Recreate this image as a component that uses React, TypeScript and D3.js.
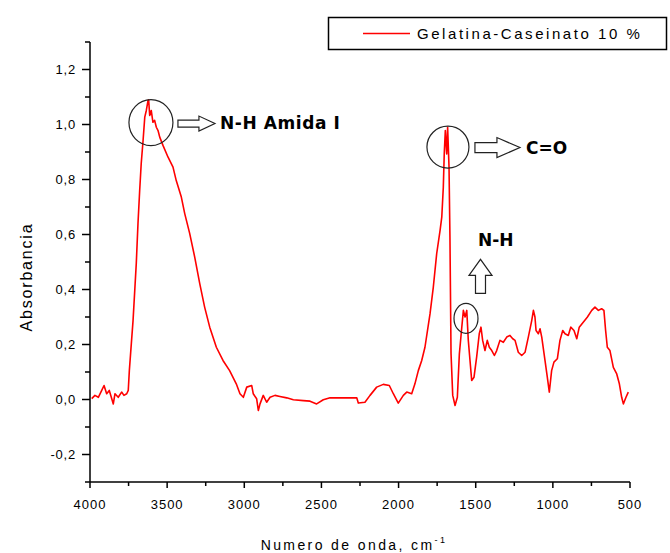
import React from "react";
import * as d3 from "d3";

const wavenumber = [3989,3968,3946,3924,3909,3892,3875,3859,3849,3838,3817,3795,3780,3762,3752,3745,3732,3721,3710,3700,3689,3678,3668,3656,3645,3635,3624,3620,3613,3603,3592,3581,3570,3559,3548,3527,3494,3462,3441,3408,3386,3354,3321,3289,3257,3224,3181,3138,3095,3052,3028,3006,2984,2952,2942,2920,2909,2898,2877,2855,2833,2801,2769,2725,2682,2617,2574,2531,2488,2444,2358,2271,2261,2218,2185,2142,2099,2060,2034,2002,1969,1947,1915,1894,1872,1850,1829,1796,1775,1753,1731,1720,1710,1704,1697,1688,1682,1673,1667,1660,1649,1634,1619,1606,1591,1580,1569,1558,1548,1537,1526,1511,1494,1477,1466,1455,1440,1425,1412,1396,1379,1364,1343,1321,1299,1278,1260,1245,1224,1202,1180,1159,1137,1126,1116,1109,1094,1083,1072,1051,1036,1023,1008,993,971,954,936,921,900,884,863,845,829,803,777,748,727,705,684,669,658,647,630,608,586,569,554,543,526,511];

const absorbance = [0.003,0.015,0.008,0.033,0.051,0.021,0.033,0.003,-0.016,0.021,0.008,0.027,0.015,0.021,0.033,0.105,0.204,0.287,0.396,0.495,0.64,0.76,0.858,0.942,1.027,1.051,1.087,1.09,1.033,1.051,1.008,1.015,0.99,0.978,0.954,0.924,0.881,0.845,0.796,0.736,0.676,0.604,0.517,0.422,0.336,0.263,0.19,0.142,0.105,0.057,0.021,0.008,0.045,0.051,0.021,0.003,-0.04,-0.016,0.015,-0.01,0.008,0.015,0.011,0.006,-0.001,-0.004,-0.006,-0.016,-0.001,0.006,0.006,0.006,-0.013,-0.01,0.015,0.045,0.055,0.051,0.021,-0.013,0.015,0.027,0.021,0.057,0.105,0.142,0.19,0.312,0.408,0.53,0.615,0.663,0.772,0.893,0.978,0.893,0.99,0.845,0.59,0.167,0.015,-0.022,0.008,0.166,0.258,0.324,0.3,0.324,0.215,0.142,0.069,0.081,0.154,0.239,0.263,0.215,0.178,0.215,0.19,0.178,0.16,0.178,0.215,0.208,0.227,0.233,0.221,0.215,0.172,0.16,0.172,0.227,0.287,0.324,0.3,0.251,0.239,0.257,0.227,0.142,0.081,0.027,0.105,0.136,0.148,0.215,0.251,0.239,0.233,0.263,0.251,0.221,0.263,0.281,0.299,0.324,0.336,0.324,0.33,0.324,0.251,0.19,0.178,0.117,0.093,0.057,0.008,-0.016,0.008,0.027];

const xTicks = [4000, 3500, 3000, 2500, 2000, 1500, 1000, 500];
const xTickLabels = ["4000", "3500", "3000", "2500", "2000", "1500", "1000", "500"];
const xMinorTicks = [3750, 3250, 2750, 2250, 1750, 1250, 750];
const yTicks = [1.2, 1.0, 0.8, 0.6, 0.4, 0.2, 0.0, -0.2];
const yTickLabels = ["1,2", "1,0", "0,8", "0,6", "0,4", "0,2", "0,0", "-0,2"];
const yMinorTicks = [1.3, 1.1, 0.9, 0.7, 0.5, 0.3, 0.1, -0.1, -0.3];

const seriesName = "Gelatina-Caseinato 10 %";
const xTitle = "Numero de onda, cm";
const yTitle = "Absorbancia";

// annotations anchored in data coordinates
const circles = [
  { w: 3605, a: 1.007, rx: 22, ry: 23 },
  { w: 1680, a: 0.918, rx: 21, ry: 21 },
  { w: 1563, a: 0.295, rx: 12, ry: 15 },
];

const RED = "#ff0000";
const FONT = "'Liberation Sans', Arial, sans-serif";
const BOLD = "'DejaVu Sans', Verdana, sans-serif";

function rightArrow(x0: number, x1: number, cy: number, shaftH: number, headH: number, headL: number) {
  const xb = x1 - headL;
  return `M${x0},${cy - shaftH / 2}L${xb},${cy - shaftH / 2}L${xb},${cy - headH / 2}L${x1},${cy}L${xb},${cy + headH / 2}L${xb},${cy + shaftH / 2}L${x0},${cy + shaftH / 2}Z`;
}
function upArrow(cx: number, y0: number, y1: number, shaftW: number, headW: number, headL: number) {
  const yb = y1 + headL;
  return `M${cx - shaftW / 2},${y0}L${cx - shaftW / 2},${yb}L${cx - headW / 2},${yb}L${cx},${y1}L${cx + headW / 2},${yb}L${cx + shaftW / 2},${yb}L${cx + shaftW / 2},${y0}Z`;
}

export default function App() {
  const x = d3.scaleLinear().domain([4000, 500]).range([90, 630]);
  const y = d3.scaleLinear().domain([-0.3, 1.3]).range([482, 42]);
  const pts: [number, number][] = wavenumber.map((w, i) => [w, absorbance[i]]);
  const line = d3.line<[number, number]>().x((d) => x(d[0])).y((d) => y(d[1]));

  const c1 = circles[0], c2 = circles[1], c3 = circles[2];
  const c1x = x(c1.w), c1y = y(c1.a);
  const c2x = x(c2.w), c2y = y(c2.a);
  const c3x = x(c3.w), c3y = y(c3.a);

  return (
    <svg width={670} height={553} style={{ position: "absolute", left: 0, top: 0, background: "#fff" }}>
      <rect x={0} y={0} width={670} height={553} fill="#fff" />
      {/* legend */}
      <rect x={328.5} y={17.5} width={338} height={32} fill="#fff" stroke="#000" strokeWidth={1.5} />
      <line x1={363} x2={410} y1={33.5} y2={33.5} stroke={RED} strokeWidth={1.5} />
      <text x={417} y={39} fontFamily={FONT} fontSize={15} letterSpacing={2.55} fill="#000">{seriesName}</text>

      {/* axes */}
      <line x1={90} x2={90} y1={y(1.3)} y2={y(-0.3)} stroke="#000" strokeWidth={1.5} />
      <line x1={90} x2={630} y1={482} y2={482} stroke="#000" strokeWidth={1.5} />
      {yTicks.map((t, i) => (
        <g key={"yt" + i}>
          <line x1={82} x2={90} y1={y(t)} y2={y(t)} stroke="#000" strokeWidth={1.5} />
          <text x={76} y={y(t) + 4.5} textAnchor="end" fontFamily={FONT} fontSize={13} letterSpacing={0.8} fill="#000">{yTickLabels[i]}</text>
        </g>
      ))}
      {yMinorTicks.map((t, i) => (
        <line key={"ym" + i} x1={85} x2={90} y1={y(t)} y2={y(t)} stroke="#000" strokeWidth={1.5} />
      ))}
      {xTicks.map((t, i) => (
        <g key={"xt" + i}>
          <line x1={x(t)} x2={x(t)} y1={482} y2={488} stroke="#000" strokeWidth={1.5} />
          <text x={x(t)} y={509} textAnchor="middle" fontFamily={FONT} fontSize={13} letterSpacing={1} fill="#000">{xTickLabels[i]}</text>
        </g>
      ))}
      {xMinorTicks.map((t, i) => (
        <line key={"xm" + i} x1={x(t)} x2={x(t)} y1={482} y2={486} stroke="#000" strokeWidth={1.5} />
      ))}

      {/* titles */}
      <text transform="translate(32,277) rotate(-90)" textAnchor="middle" fontFamily={FONT} fontSize={16} letterSpacing={1.8} fill="#000">{yTitle}</text>
      <text x={354} y={550} textAnchor="middle" fontFamily={FONT} fontSize={14} letterSpacing={2.4} fill="#000">
        {xTitle}
        <tspan dy={-7} fontSize={9}>-1</tspan>
      </text>

      {/* spectrum */}
      <path d={line(pts) || ""} fill="none" stroke={RED} strokeWidth={1.6} strokeLinejoin="round" />

      {/* annotations */}
      <ellipse cx={c1x} cy={c1y} rx={c1.rx} ry={c1.ry} fill="none" stroke="#222" strokeWidth={1.2} />
      <path d={rightArrow(c1x + 27, c1x + 64, c1y + 1, 7, 15, 16)} fill="#fff" stroke="#222" strokeWidth={1.2} />
      <text x={c1x + 69} y={c1y + 6} fontFamily={BOLD} fontWeight="bold" fontSize={17} letterSpacing={0.6} fill="#000">N-H Amida I</text>

      <ellipse cx={c2x} cy={c2y} rx={c2.rx} ry={c2.ry} fill="none" stroke="#222" strokeWidth={1.2} />
      <path d={rightArrow(c2x + 27, c2x + 72, c2y + 0.5, 10, 20, 23)} fill="#fff" stroke="#222" strokeWidth={1.2} />
      <text x={c2x + 78} y={c2y + 6.5} fontFamily={BOLD} fontWeight="bold" fontSize={17} fill="#000">C=O</text>

      <ellipse cx={c3x} cy={c3y} rx={c3.rx} ry={c3.ry} fill="none" stroke="#222" strokeWidth={1.2} />
      <path d={upArrow(c3x + 14.5, c3y - 25, c3y - 59, 10, 23, 16)} fill="#fff" stroke="#222" strokeWidth={1.2} />
      <text x={c3x + 12} y={c3y - 72} fontFamily={BOLD} fontWeight="bold" fontSize={17} fill="#000">N-H</text>
    </svg>
  );
}
